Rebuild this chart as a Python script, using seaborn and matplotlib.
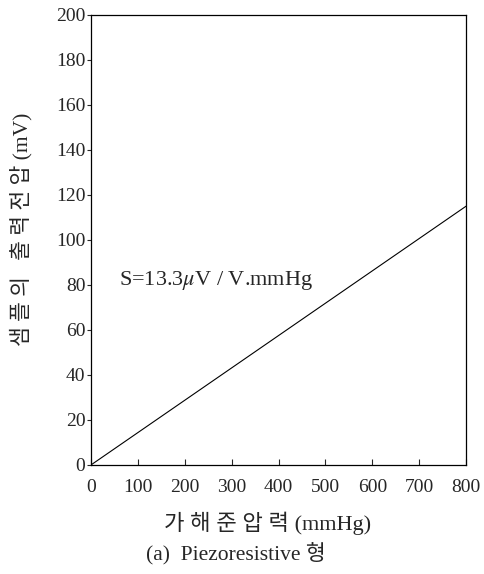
import pandas as pd
import numpy as np
import matplotlib.pyplot as plt
import seaborn as sns

sns.set_style("ticks")
plt.rcParams['font.family'] = ['Liberation Serif', 'Noto Sans CJK KR']
plt.rcParams['mathtext.fontset'] = 'stix'

# data
pressure = [0, 800]          # mmHg
output_mv = [0, 115]         # mV
x_ticks = [0, 100, 200, 300, 400, 500, 600, 700, 800]
y_ticks = [0, 20, 40, 60, 80, 100, 120, 140, 160, 180, 200]

df = pd.DataFrame({'pressure': pressure, 'output': output_mv})

fig = plt.figure(figsize=(4.84, 5.74), dpi=100)
ax = fig.add_axes([0.188, 0.190, 0.775, 0.784])
sns.lineplot(data=df, x='pressure', y='output', color='black', linewidth=0.8, ax=ax)

ax.set_xlim(0, 800)
ax.set_ylim(0, 200)
ax.set_xticks(x_ticks)
ax.set_yticks(y_ticks)
ax.tick_params(axis='x', direction='in', length=4, width=0.8, labelsize=14, pad=10)
ax.tick_params(axis='y', direction='out', length=3, width=0.8, labelsize=14, pad=1)
for s in ax.spines.values():
    s.set_linewidth(0.9)
    s.set_color('black')

ax.set_xlabel('가 해 준 압 력 (mmHg)', fontsize=16, fontweight='medium')
ax.set_ylabel('샘 플 의   출 력 전 압 (mV)', fontsize=15.5, fontweight='medium')
ax.xaxis.set_label_coords(0.47, -0.104)
ax.yaxis.set_label_coords(-0.155, 0.524)
ax.text(60, 82, 'S=13.3$\\mu$V / V.mmHg', fontsize=16, ha='left', va='center')

fig.text(0.488, 0.035, '(a)  Piezoresistive 형', ha='center', va='center', fontsize=15.5)

fig.savefig('out.png', dpi=100)
